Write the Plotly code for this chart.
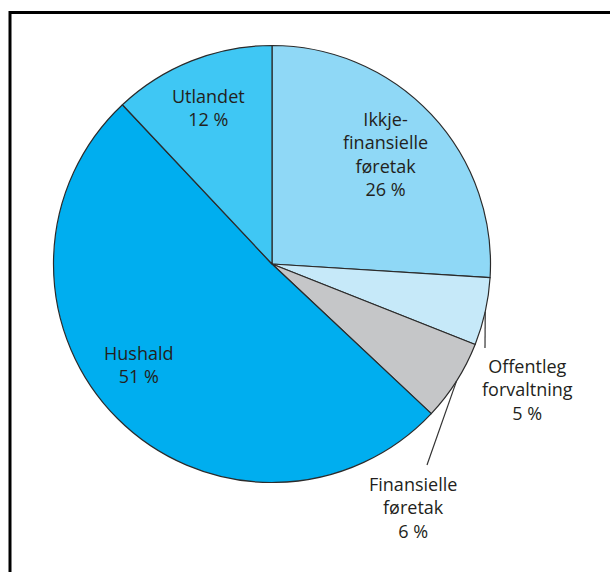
import math
import plotly.graph_objects as go

# Sectors, clockwise from 12 o'clock
labels = ["Ikkje-<br>finansielle<br>føretak", "Offentleg<br>forvaltning", "Finansielle<br>føretak", "Hushald", "Utlandet"]
values = [26, 5, 6, 51, 12]
colors = ["#8fd8f6", "#c6e9f9", "#c5c6c8", "#00aeef", "#3fc7f4"]

W, H = 610, 572
CX, CY, R = 272, 264, 218.5  # pie centre and radius in px

# Label block centres (px) and optional leader-line end points (px)
label_pos = [(385, 154), (527, 389), (413, 507), (139, 364), (208, 108)]
leader_end = [None, (485, 348), (427, 465), None, None]

TEXT = "#231f20"
FONT = "Open Sans"

fig = go.Figure(go.Pie(
    values=values,
    labels=[l.replace("<br>", " ") for l in labels],
    sort=False,
    direction="clockwise",
    rotation=0,
    textinfo="none",
    hoverinfo="label+percent",
    marker=dict(colors=colors, line=dict(color="#2b2b2b", width=1.2)),
    domain=dict(x=[(CX - R) / W, (CX + R) / W], y=[1 - (CY + R) / H, 1 - (CY - R) / H]),
    showlegend=False,
))

def px(x, y):
    return x / W, 1 - y / H

total = sum(values)
annotations = []
shapes = []
cum = 0
for lab, val, pos, end in zip(labels, values, label_pos, leader_end):
    mid = (cum + val / 2) / total * 2 * math.pi
    cum += val
    ax, ay = px(*pos)
    annotations.append(dict(
        x=ax, y=ay, xref="paper", yref="paper", xanchor="center", yanchor="middle",
        text=f"{lab}<br>{val} %", showarrow=False, align="center",
        font=dict(family=FONT, size=18, color=TEXT),
    ))
    if end is not None:
        sx = CX + R * math.sin(mid)
        sy = CY - R * math.cos(mid)
        x0, y0 = px(sx, sy)
        x1, y1 = px(*end)
        shapes.append(dict(type="line", xref="paper", yref="paper",
                           x0=x0, y0=y0, x1=x1, y1=y1,
                           line=dict(color="#333333", width=1.2)))

# Frame lines along the top and left edges
shapes.append(dict(type="line", xref="paper", yref="paper",
                   x0=10 / W, y0=1 - 12.5 / H, x1=1, y1=1 - 12.5 / H,
                   line=dict(color="black", width=3)))
shapes.append(dict(type="line", xref="paper", yref="paper",
                   x0=10 / W, y0=1 - 11 / H, x1=10 / W, y1=0,
                   line=dict(color="black", width=3)))

fig.update_layout(
    width=W, height=H,
    margin=dict(l=0, r=0, t=0, b=0),
    paper_bgcolor="white", plot_bgcolor="white",
    annotations=annotations, shapes=shapes,
)

fig.write_html("out.html")
